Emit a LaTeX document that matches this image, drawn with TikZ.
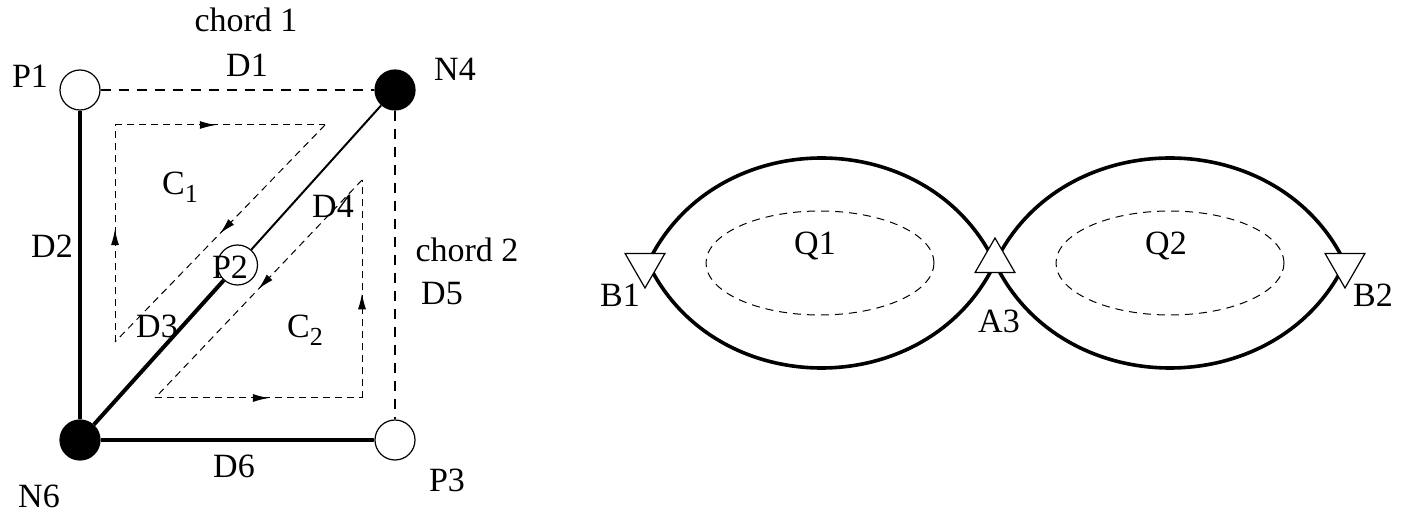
\documentclass[tikz,border=0pt]{standalone}
\usepackage{fontspec}
\setmainfont{Liberation Serif}
\usetikzlibrary{arrows.meta,decorations.markings,shapes.geometric}
\newcommand{\mysub}[2]{#1\raisebox{-4pt}{\fontsize{13}{13}\selectfont #2}}
\begin{document}
\begin{tikzpicture}[x=0.5pt,y=-0.5pt,
  every node/.style={font=\fontsize{17}{20}\selectfont},
  lbl/.style={anchor=base,inner sep=0pt},
  opennode/.style={circle,draw,line width=0.6pt,fill=white,minimum size=20pt,inner sep=0pt},
  fullnode/.style={circle,draw,fill=black,line width=0.6pt,minimum size=20pt,inner sep=0pt},
  thickedge/.style={line width=2pt},
  thinedge/.style={line width=1pt},
  chordedge/.style={line width=1.1pt,dash pattern=on 5pt off 4pt},
  loop/.style={line width=0.5pt,dash pattern=on 3.5pt off 2.5pt},
  midarrow/.style={postaction={decorate},decoration={markings,mark=at position #1 with {\arrow{Latex[length=8pt,width=4pt]}}}},
  lensline/.style={line width=1.8pt},
  inner/.style={line width=0.5pt,dash pattern=on 4pt off 3pt},
  tri/.style={regular polygon,regular polygon sides=3,draw,fill=white,line width=0.6pt,minimum size=23pt,inner sep=0pt}
]
\useasboundingbox (0,0) rectangle (1410,513);

% ---------- left figure ----------
\node[opennode] (P1) at (80,90) {};
\node[fullnode] (N4) at (395,90) {};
\node[fullnode] (N6) at (80,440) {};
\node[opennode] (P3) at (395,440) {};
\node[opennode] (P2) at (237.5,265) {};

\draw[thickedge] (N6) -- (P1);
\draw[thickedge] (N6) -- (P3);
\draw[thickedge] (N6) -- (P2);
\draw[thinedge] (P2) -- (N4);
\draw[chordedge] (P1) -- (N4);
\draw[chordedge] (N4) -- (P3);

% cycle C1
\coordinate (c1a) at (115,342);
\coordinate (c1b) at (115,125);
\coordinate (c1c) at (325,125);
\draw[loop,midarrow=0.52] (c1a) -- (c1b);
\draw[loop,midarrow=0.48] (c1b) -- (c1c);
\draw[loop,midarrow=0.5] (c1c) -- (c1a);

% cycle C2
\coordinate (c2a) at (362,180);
\coordinate (c2b) at (155,398);
\coordinate (c2c) at (362,398);
\draw[loop,midarrow=0.5] (c2a) -- (c2b);
\draw[loop,midarrow=0.55] (c2b) -- (c2c);
\draw[loop,midarrow=0.48] (c2c) -- (c2a);

\node[lbl] (t1) at (246,32) {chord 1};
\node[lbl] (t2) at (247,77) {D1};
\node[lbl] (t3) at (30,88) {P1};
\node[lbl] (t4) at (455,81) {N4};
\node[lbl] (t5) at (52,258) {D2};
\node[lbl] (t6) at (180,195) {\mysub{C}{1}};
\node[lbl] (t7) at (333,218) {D4};
\node[lbl] (t8) at (467,262) {chord 2};
\node[lbl] (t9) at (230,279) {P2};
\node[lbl] (t10) at (442,305) {D5};
\node[lbl] (t11) at (157,338) {D3};
\node[lbl] (t12) at (305,338) {\mysub{C}{2}};
\node[lbl] (t13) at (234,478) {D6};
\node[lbl] (t14) at (39,508) {N6};
\node[lbl] (t15) at (447,492) {P3};

% ---------- right figure ----------
\coordinate (L) at (648,263);
\coordinate (M) at (995,263);
\coordinate (R) at (1345,263);
\draw[lensline] (L) .. controls (715,123) and (928,123) .. (M);
\draw[lensline] (L) .. controls (715,403) and (928,403) .. (M);
\draw[lensline] (M) .. controls (1062,123) and (1278,123) .. (R);
\draw[lensline] (M) .. controls (1062,403) and (1278,403) .. (R);

\draw[inner] (820,263) ellipse [x radius=114, y radius=52];
\draw[inner] (1170,263) ellipse [x radius=114, y radius=52];

\node[tri,shape border rotate=180] (B1) at (645,265) {};
\node[tri] (A3) at (995,261) {};
\node[tri,shape border rotate=180] (B2) at (1345,265) {};

\node[lbl] (q1) at (815,255) {Q1};
\node[lbl] (q2) at (1166,255) {Q2};
\node[lbl] (b1) at (620,307) {B1};
\node[lbl] (a3) at (999,333) {A3};
\node[lbl] (b2) at (1373,307) {B2};
\end{tikzpicture}
\end{document}
